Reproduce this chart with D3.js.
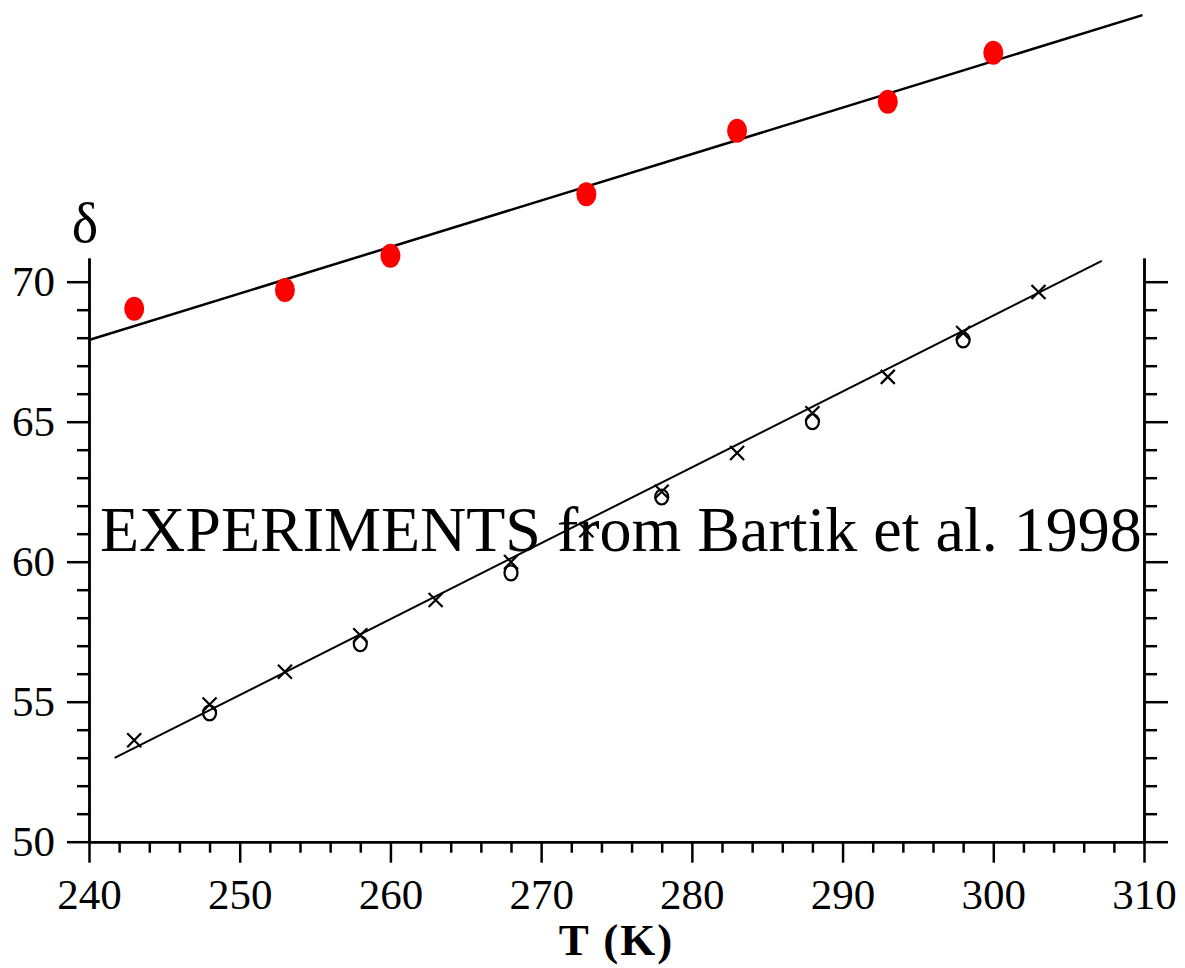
<!DOCTYPE html>
<html>
<head>
<meta charset="utf-8">
<script src="https://cdn.jsdelivr.net/npm/d3@7"></script>
<style>
  body { margin: 0; background: #fff; }
  svg { display: block; }
  text { font-family: "Liberation Serif", "Times New Roman", serif; fill: #000; }
</style>
</head>
<body>
<script>
var width = 1185
var height = 968

// simulation points (red) and its fitted line
var redT = [243, 253, 260, 273, 283, 293, 300]
var redDelta = [69.03, 69.70, 70.93, 73.12, 75.39, 76.43, 78.18]
var redLineT = [240, 309.9]
var redLineDelta = [67.92, 79.52]

// experiments, Bartik et al. 1998
var crossT = [243, 248, 253, 258, 263, 268, 273, 278, 283, 288, 293, 298, 303]
var crossDelta = [53.62, 54.9, 56.07, 57.37, 58.63, 59.99, 61.12, 62.5, 63.88, 65.3, 66.6, 68.17, 69.63]
var circleT = [248, 258, 268, 278, 288, 298]
var circleDelta = [54.6, 57.07, 59.6, 62.31, 65.0, 67.92]
var fitLineT = [241.7, 307.2]
var fitLineDelta = [52.99, 70.74]

// ticks
var xMajor = [240, 250, 260, 270, 280, 290, 300, 310]
var xMinor = d3.range(242, 310, 2).filter(function(v) { return v % 10 != 0 })
var yMajor = [50, 55, 60, 65, 70]
var yMinor = d3.range(51, 71, 1).filter(function(v) { return v % 5 != 0 })

var svg = d3.select("body")
	.append("svg")
	.attr("width", width)
	.attr("height", height)

var x = d3.scaleLinear().domain([240, 310]).range([89, 1144])
var y = d3.scaleLinear().domain([50, 70.85]).range([841.7, 257.9])

function styleAxis(g) {
	g.selectAll("path").attr("stroke", "#000").attr("stroke-width", 2.5)
	g.selectAll("line").attr("stroke", "#000").attr("stroke-width", 2.5)
	g.selectAll("text")
		.style("font-family", "'Liberation Serif', serif")
		.style("font-size", "43px")
		.attr("fill", "#000")
}

// bottom axis
svg.append("g")
	.attr("transform", "translate(0," + y(50) + ")")
	.call(d3.axisBottom(x).tickValues(xMinor).tickSize(11).tickFormat("").tickSizeOuter(0))
	.call(styleAxis)
svg.append("g")
	.attr("transform", "translate(0," + y(50) + ")")
	.call(d3.axisBottom(x).tickValues(xMajor).tickSize(21).tickPadding(16).tickFormat(d3.format("d")).tickSizeOuter(0))
	.call(styleAxis)

// left axis
svg.append("g")
	.attr("transform", "translate(" + x(240) + ",0)")
	.call(d3.axisLeft(y).tickValues(yMinor).tickSize(12).tickFormat("").tickSizeOuter(0))
	.call(styleAxis)
svg.append("g")
	.attr("transform", "translate(" + x(240) + ",0)")
	.call(d3.axisLeft(y).tickValues(yMajor).tickSize(22).tickPadding(12).tickFormat(d3.format("d")).tickSizeOuter(0))
	.call(styleAxis)

// right axis
svg.append("g")
	.attr("transform", "translate(" + x(310) + ",0)")
	.call(d3.axisRight(y).tickValues(yMinor).tickSize(13).tickFormat("").tickSizeOuter(0))
	.call(styleAxis)
svg.append("g")
	.attr("transform", "translate(" + x(310) + ",0)")
	.call(d3.axisRight(y).tickValues(yMajor).tickSize(24).tickFormat("").tickSizeOuter(0))
	.call(styleAxis)

// axis titles
svg.append("text")
	.attr("x", 85)
	.attr("y", 242)
	.attr("text-anchor", "middle")
	.style("font-size", "56px")
	.text("δ")

svg.append("text")
	.attr("x", (x(240) + x(310)) / 2)
	.attr("y", 955)
	.attr("text-anchor", "middle")
	.style("font-size", "45px")
	.style("font-weight", "bold")
	.style("letter-spacing", "2px")
	.text("T (K)")

var line = d3.line()
	.x(function(d) { return x(d[0]) })
	.y(function(d) { return y(d[1]) })

// experimental fit
svg.append("path")
	.datum(d3.zip(fitLineT, fitLineDelta))
	.attr("d", line)
	.attr("fill", "none")
	.attr("stroke", "#000")
	.attr("stroke-width", 2)

// crosses
var s = 7
svg.selectAll(".cross")
	.data(d3.zip(crossT, crossDelta))
	.enter()
	.append("path")
	.attr("class", "cross")
	.attr("d", function(d) {
		var cx = x(d[0]), cy = y(d[1])
		return "M" + (cx - s) + "," + (cy - s) + "L" + (cx + s) + "," + (cy + s) +
			"M" + (cx - s) + "," + (cy + s) + "L" + (cx + s) + "," + (cy - s)
	})
	.attr("stroke", "#000")
	.attr("stroke-width", 2.2)

// open circles
svg.selectAll(".circ")
	.data(d3.zip(circleT, circleDelta))
	.enter()
	.append("ellipse")
	.attr("class", "circ")
	.attr("cx", function(d) { return x(d[0]) })
	.attr("cy", function(d) { return y(d[1]) })
	.attr("rx", 6.5)
	.attr("ry", 7.5)
	.attr("fill", "none")
	.attr("stroke", "#000")
	.attr("stroke-width", 2.2)

// red fit line and points
svg.append("path")
	.datum(d3.zip(redLineT, redLineDelta))
	.attr("d", line)
	.attr("fill", "none")
	.attr("stroke", "#000")
	.attr("stroke-width", 2.5)

svg.selectAll(".red")
	.data(d3.zip(redT, redDelta))
	.enter()
	.append("ellipse")
	.attr("class", "red")
	.attr("cx", function(d) { return x(d[0]) })
	.attr("cy", function(d) { return y(d[1]) })
	.attr("rx", 10)
	.attr("ry", 12)
	.attr("fill", "#ff0000")

// annotation
svg.append("text")
	.attr("x", 100)
	.attr("y", 551)
	.style("font-size", "64px")
	.text("EXPERIMENTS from Bartik et al. 1998")
</script>
</body>
</html>
